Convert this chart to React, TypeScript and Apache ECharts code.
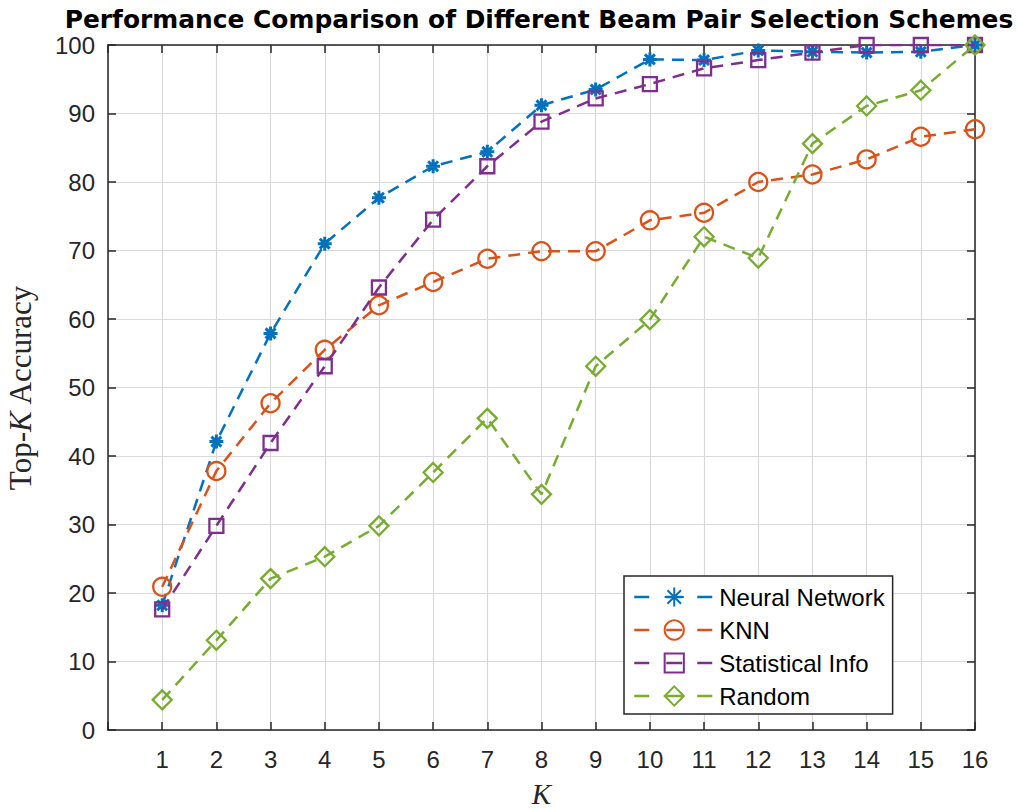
import React, { useEffect, useRef } from "react";
import * as echarts from "echarts";

const K = [1, 2, 3, 4, 5, 6, 7, 8, 9, 10, 11, 12, 13, 14, 15, 16];
const neuralNetwork = [18.2, 42.1, 57.9, 71.0, 77.7, 82.3, 84.4, 91.2, 93.5, 97.9, 97.8, 99.2, 99.0, 98.9, 99.0, 100];
const knn = [20.9, 37.8, 47.7, 55.5, 62.0, 65.4, 68.8, 69.9, 69.9, 74.4, 75.5, 80.0, 81.1, 83.3, 86.6, 87.7];
const statisticalInfo = [17.6, 29.8, 41.9, 53.1, 64.6, 74.5, 82.3, 88.8, 92.2, 94.3, 96.6, 97.8, 98.9, 100, 100, 100];
const randomSel = [4.4, 13.1, 22.1, 25.3, 29.8, 37.6, 45.5, 34.4, 53.1, 59.9, 72.0, 68.9, 85.6, 91.1, 93.4, 100];

const seriesNames = ["Neural Network", "KNN", "Statistical Info", "Random"];
const seriesColors = ["#0072BD", "#D95319", "#7E2F8E", "#77AC30"];
const yTicks = [0, 10, 20, 30, 40, 50, 60, 70, 80, 90, 100];

const AXIS = "#262626";
const SANS = "'Liberation Sans', Arial, Helvetica, sans-serif";
const TITLE_FONT = "'DejaVu Sans', Verdana, sans-serif";
const SERIF = "'Liberation Serif', 'Times New Roman', serif";
const ASTERISK = "path://M12 0L12 24M0 12L24 12M3.5 3.5L20.5 20.5M3.5 20.5L20.5 3.5";

export default function App() {
  const ref = useRef<HTMLDivElement>(null);
  useEffect(() => {
    if (!ref.current) return;
    const chart = echarts.init(ref.current, null, { renderer: "svg" });
    const allData = [neuralNetwork, knn, statisticalInfo, randomSel];
    const symbols = [ASTERISK, "circle", "rect", "diamond"];
    const sizes = [14, 18, 14, 19];
    const series = allData.map((vals, i) => ({
      name: seriesNames[i],
      type: "line",
      xAxisIndex: 0,
      yAxisIndex: 0,
      data: K.map((k, j) => [k, vals[j]]),
      symbol: symbols[i],
      symbolSize: sizes[i],
      showAllSymbol: true,
      lineStyle: { color: seriesColors[i], width: 2.5, type: [12, 8] },
      itemStyle: {
        color: "transparent",
        borderColor: seriesColors[i],
        borderWidth: i === 0 ? 3 : 2.3,
      },
      emphasis: { disabled: true },
      z: 2 + i,
    }));
    const option: any = {
      animation: false,
      backgroundColor: "#ffffff",
      title: {
        text: "Performance Comparison of Different Beam Pair Selection Schemes",
        left: 539,
        top: 7,
        padding: 0,
        textAlign: "center",
        textStyle: {
          fontFamily: TITLE_FONT,
          fontSize: 24.9,
          lineHeight: 24,
          fontWeight: "bold",
          color: "#000",
        },
      },
      grid: { left: 108, right: 43, top: 45, bottom: 79, containLabel: false, outerBoundsMode: "none" },
      legend: {
        orient: "vertical",
        left: 624,
        top: 576,
        padding: [9, 8, 6, 9],
        itemWidth: 80,
        itemHeight: 24,
        itemGap: 9,
        backgroundColor: "#ffffff",
        borderColor: AXIS,
        borderWidth: 1.5,
        borderRadius: 0,
        textStyle: { fontFamily: SANS, fontSize: 24, color: "#000" },
        lineStyle: { type: [15, 17, 16, 15, 15, 100], width: 2.5 },
        data: seriesNames,
        selectedMode: false,
      },
      xAxis: [
        {
          type: "value",
          position: "bottom",
          min: 0,
          max: 16,
          interval: 1,
          name: "K",
          nameLocation: "middle",
          nameGap: 49,
          nameTextStyle: { fontFamily: SERIF, fontStyle: "italic", fontSize: 29, color: AXIS },
          axisLine: { onZero: false, lineStyle: { color: AXIS, width: 1.5 } },
          axisTick: { inside: true, length: 8, lineStyle: { color: AXIS, width: 1.5 } },
          axisLabel: {
            margin: 17,
            fontFamily: SANS,
            fontSize: 24,
            color: AXIS,
            formatter: (v: number) => (v === 0 ? "" : String(v)),
          },
          splitLine: { show: true, lineStyle: { color: "#d9d9d9", width: 1.2 } },
        },
        {
          type: "value",
          position: "top",
          min: 0,
          max: 16,
          interval: 1,
          axisLine: { onZero: false, lineStyle: { color: AXIS, width: 1.5 } },
          axisTick: { inside: true, length: 8, lineStyle: { color: AXIS, width: 1.5 } },
          axisLabel: { show: false },
          splitLine: { show: false },
        },
      ],
      yAxis: [
        {
          type: "value",
          position: "left",
          min: yTicks[0],
          max: yTicks[yTicks.length - 1],
          interval: 10,
          name: "{a|Top-}{b|K}{a| Accuracy}",
          nameLocation: "middle",
          nameGap: 72,
          nameTextStyle: {
            color: AXIS,
            rich: {
              a: { fontFamily: SERIF, fontSize: 31, color: AXIS },
              b: { fontFamily: SERIF, fontSize: 31, fontStyle: "italic", color: AXIS },
            },
          },
          axisLine: { onZero: false, lineStyle: { color: AXIS, width: 1.5 } },
          axisTick: { inside: true, length: 8, lineStyle: { color: AXIS, width: 1.5 } },
          axisLabel: { margin: 13, fontFamily: SANS, fontSize: 24, color: AXIS },
          splitLine: { show: true, lineStyle: { color: "#d9d9d9", width: 1.2 } },
        },
        {
          type: "value",
          position: "right",
          min: yTicks[0],
          max: yTicks[yTicks.length - 1],
          interval: 10,
          axisLine: { onZero: false, lineStyle: { color: AXIS, width: 1.5 } },
          axisTick: { inside: true, length: 8, lineStyle: { color: AXIS, width: 1.5 } },
          axisLabel: { show: false },
          splitLine: { show: false },
        },
      ],
      series,
    };
    chart.setOption(option);
    return () => chart.dispose();
  }, []);
  return (
    <div
      ref={ref}
      style={{ position: "fixed", left: 0, top: 0, width: 1018, height: 809, background: "#fff" }}
    />
  );
}
